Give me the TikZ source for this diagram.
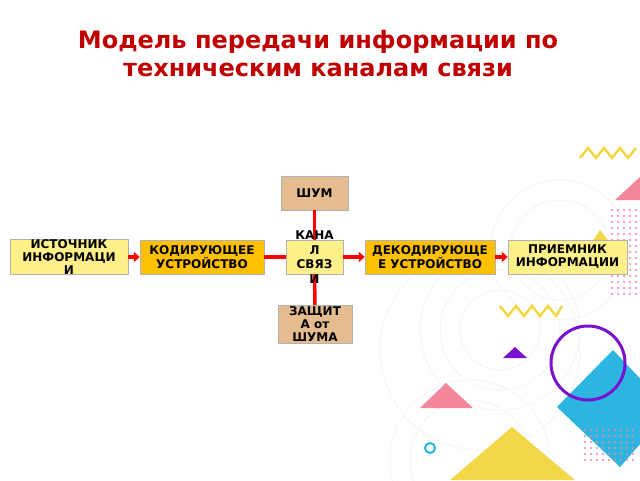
\documentclass[tikz,border=0pt]{standalone}
\usepackage{fontspec}
\setmainfont{DejaVu Sans}
\usetikzlibrary{positioning,calc,arrows.meta}
\definecolor{ttl}{HTML}{C00000}
\definecolor{pale}{HTML}{FFF08A}
\definecolor{gold}{HTML}{FFC000}
\definecolor{tan}{HTML}{E4BC90}
\definecolor{pinkd}{HTML}{F4869A}
\definecolor{yel}{HTML}{F2D848}
\definecolor{purp}{HTML}{7A10D0}
\definecolor{sky}{HTML}{2BB5E0}
\tikzset{
  blk/.style={draw=gray!60,fill=#1,minimum height=34pt,align=center,
    font=\fontsize{12}{13}\selectfont\bfseries,inner sep=0pt},
  link/.style={red,line width=3.5pt},
  arr/.style={red,line width=3.5pt,-{Triangle[length=6pt,width=10pt]}}
}
\begin{document}
\begin{tikzpicture}[x=1pt,y=-1pt]
\useasboundingbox (0,0) rectangle (640,480);

% background
\foreach \c/\r in {{(500,330)}/40,{(500,330)}/60,{(500,330)}/80,{(480,350)}/100,{(560,250)}/50,{(560,250)}/70,{(470,460)}/60,{(470,460)}/80}
  \draw[gray!8,line width=1pt] \c circle (\r);
\foreach \x in {0,...,5} \foreach \y in {0,...,14}
  \fill[pinkd] (612+\x*6,210+\y*6) circle (1.2);
\draw[yel,line width=2.5pt] (580,158) -- (588,148) -- (596,158) -- (604,148) -- (612,158) -- (620,148) -- (628,158) -- (636,148);
\fill[pinkd] (615,200) -- (640,177) -- (640,200) -- cycle;
\fill[yel] (600,230) -- (612,245) -- (600,260) -- (590,245) -- cycle;
\draw[yel,line width=2.5pt] (500,306) -- (508,316) -- (516,306) -- (524,316) -- (532,306) -- (540,316) -- (548,306) -- (556,316) -- (562,306);
\fill[purp] (503,358) -- (515,347) -- (527,358) -- cycle;
\fill[sky] (613,350) -- (670,410) -- (620,467) -- (557,407) -- cycle;
\foreach \x in {0,...,8} \foreach \y in {0,...,5}
  \fill[pinkd] (585+\x*6,430+\y*6) circle (1.2);
\draw[purp,line width=3pt] (588,363) circle (37);
\fill[pinkd] (420,408) -- (446,383) -- (473,408) -- cycle;
\draw[sky,line width=2pt] (430,448) circle (5);
\fill[yel] (450,480) -- (512,427) -- (575,480) -- cycle;

% title
\node[ttl,font=\fontsize{24}{28}\selectfont\bfseries,align=center] (title) at (318,54)
  {Модель передачи информации по\\техническим каналам связи};

% blocks
\node[blk=pale,minimum width=118pt] (src) at (69,257) {ИСТОЧНИК\\ИНФОРМАЦИ\\И};
\node[blk=gold,minimum width=124pt] (enc) at (202,257) {КОДИРУЮЩЕЕ\\УСТРОЙСТВО};
\node[blk=pale,minimum width=57pt,text height=0pt,text depth=0pt] (chan) at (314.5,257) {};
\node[blk=gold,minimum width=130pt] (dec) at (430,257) {ДЕКОДИРУЮЩЕ\\Е УСТРОЙСТВО};
\node[blk=pale,minimum width=119pt] (rcv) at (567.5,257) {ПРИЕМНИК\\ИНФОРМАЦИИ};
\node[blk=tan,minimum width=67pt] (noise) at (314.5,193) {ШУМ};
\node[blk=tan,minimum width=74pt,minimum height=38pt] (prot) at (315,324) {ЗАЩИТ\\А от\\ШУМА};

% connectors
\draw[arr] (src) -- (enc);
\draw[link] (enc) -- (chan);
\draw[arr] (chan) -- (dec);
\draw[arr] (dec) -- (rcv);
\draw[link] (noise) -- (chan);
\draw[link] (prot) -- (chan);

\node[font=\fontsize{12}{14.5}\selectfont\bfseries,align=center,inner sep=0pt] (chantext) at (chan) {КАНА\\Л\\СВЯЗ\\И};
\end{tikzpicture}
\end{document}
